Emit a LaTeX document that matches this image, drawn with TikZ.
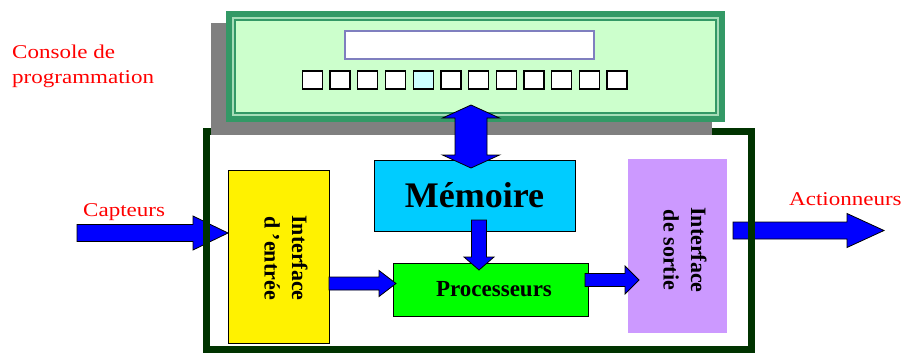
\documentclass[tikz,border=0pt]{standalone}
\usepackage{fontspec}
\setmainfont{Liberation Serif}
\newfontfamily\lblfont[FakeStretch=1.18]{Liberation Serif}
\usetikzlibrary{calc}

\definecolor{framegreen}{HTML}{003300}
\definecolor{consgreen}{HTML}{339966}
\definecolor{conslight}{HTML}{A6DDB8}
\definecolor{consfill}{HTML}{CCFFCC}
\definecolor{shadowgray}{HTML}{808080}
\definecolor{dispborder}{HTML}{7F7FBF}
\definecolor{keycyan}{HTML}{CCFFFF}
\definecolor{memcyan}{HTML}{00CCFF}
\definecolor{procgreen}{HTML}{00FF00}
\definecolor{outviolet}{HTML}{CC99FF}
\definecolor{labelred}{HTML}{FF0000}

\tikzset{
  blockarrow/.style={fill=blue, draw=black, line width=0.8pt, line join=miter},
  unitbox/.style={draw=black, line width=1pt, inner sep=0pt, outer sep=0pt},
  consbox/.style={draw=consgreen, line width=10pt, fill=consfill, outer sep=0pt,
    minimum width=489pt, minimum height=101pt},
  keybox/.style={draw=black, line width=1.3pt, minimum width=20pt, minimum height=18pt,
    inner sep=0pt, outer sep=0pt},
  redlabel/.style={text=labelred, inner sep=0pt, font=\lblfont\fontsize{19.5}{25}\selectfont},
  vlabel/.style={rotate=-90, align=center, inner sep=0pt, font=\bfseries\fontsize{22}{27.5}\selectfont},
}

% block arrow: tail, tip, half shaft, half head, head length
\newcommand{\fatarrow}[5]{%
  \coordinate (fa-t) at (#1);
  \coordinate (fa-p) at (#2);
  \coordinate (fa-b) at ($(fa-p)!#5pt!(fa-t)$);
  \draw[blockarrow] ($(fa-t)!#3pt!90:(fa-p)$) -- ($(fa-b)!#3pt!90:(fa-p)$)
    -- ($(fa-b)!#4pt!90:(fa-p)$) -- (fa-p)
    -- ($(fa-b)!#4pt!-90:(fa-p)$) -- ($(fa-b)!#3pt!-90:(fa-p)$)
    -- ($(fa-t)!#3pt!-90:(fa-p)$) -- cycle;
}

% block arrow with a head at both ends
\newcommand{\dblarrow}[5]{%
  \coordinate (da-a) at (#1);
  \coordinate (da-b) at (#2);
  \coordinate (da-ha) at ($(da-a)!#5pt!(da-b)$);
  \coordinate (da-hb) at ($(da-b)!#5pt!(da-a)$);
  \draw[blockarrow] (da-a) -- ($(da-ha)!#4pt!90:(da-b)$) -- ($(da-ha)!#3pt!90:(da-b)$)
    -- ($(da-hb)!#3pt!-90:(da-a)$) -- ($(da-hb)!#4pt!-90:(da-a)$) -- (da-b)
    -- ($(da-hb)!#4pt!90:(da-a)$) -- ($(da-hb)!#3pt!90:(da-a)$)
    -- ($(da-ha)!#3pt!-90:(da-b)$) -- ($(da-ha)!#4pt!-90:(da-b)$) -- cycle;
}

\begin{document}
\begin{tikzpicture}[x=1pt, y=-1pt]
  \useasboundingbox (0,0) rectangle (904,354);

  % Interfaces
  \node[unitbox, fill=yellow, minimum width=101pt, minimum height=173pt] (inif) at (278.5,256.5) {};
  \node[vlabel] (inif-txt) at (286,258) {Interface\\d 'entrée};
  \node[inner sep=0pt, outer sep=0pt, fill=outviolet, minimum width=99pt, minimum height=174pt] (outif) at (677.5,246) {};
  \node[vlabel] (outif-txt) at (685,250) {Interface\\de sortie};

  % Sensors in, actuators out
  \coordinate (capt-tail) at (77,233);
  \fatarrow{capt-tail}{inif.west |- capt-tail}{8.5}{17}{35}
  \coordinate (act-tip) at (884,230.5);
  \fatarrow{$(outif.east |- act-tip)+(6,0)$}{act-tip}{8.5}{17}{37}
  \node[redlabel, anchor=base west] (capt) at (83,216) {Capteurs};
  \node[redlabel, anchor=base west] (act) at (789,205) {Actionneurs};

  % Automate frame
  \draw[framegreen, line width=7pt] (206.5,131.5) rectangle (751.5,349.5);

  % Programming console
  \fill[shadowgray] (211,23) rectangle (712,135);
  \node[consbox] (cons) at (475.5,66.5) {};
  \draw[conslight, line width=2pt] ($(cons.north west)+(2,2)$) rectangle ($(cons.south east)+(-2,-2)$);
  \node[draw=dispborder, line width=1.3pt, fill=white, minimum width=249pt, minimum height=28pt,
    outer sep=0pt] (display) at (469.5,45) {};
  \foreach \i in {1,...,12} {
    \ifnum\i=5 \def\keyfill{keycyan}\else\def\keyfill{white}\fi
    \node[keybox, fill=\keyfill] (key-\i) at ({284.65+27.7*\i},80) {};
  }
  \node[redlabel, anchor=north west, align=left] (cons-txt) at (12,44.5) {Console de\\programmation};

  % Memory and processor
  \node[unitbox, fill=memcyan, minimum width=201pt, minimum height=71pt,
    font=\bfseries\fontsize{36}{40}\selectfont] (mem) at (474.5,195.5) {Mémoire};
  \node[unitbox, fill=procgreen, minimum width=195pt, minimum height=53pt,
    font=\bfseries\fontsize{23}{27}\selectfont] (proc) at (490.5,289.5) {\hspace{7pt}Processeurs};

  % Internal transfers
  \coordinate (in-tip) at ($(proc.west)+(3,-6)$);
  \fatarrow{inif.east |- in-tip}{in-tip}{6.5}{13}{17}
  \fatarrow{$(mem.south)+(4.5,-11)$}{$(proc.north)+(-11.5,7)$}{7.5}{15}{13}
  \coordinate (out-tail) at ($(proc.east)+(-3,-9.5)$);
  \fatarrow{out-tail}{$(outif.west |- out-tail)+(11,0)$}{6.5}{14}{14}
  \dblarrow{$(cons.south)+(-4.5,-12)$}{$(mem.north)+(-3.5,8)$}{16}{28.5}{13}

\end{tikzpicture}
\end{document}
